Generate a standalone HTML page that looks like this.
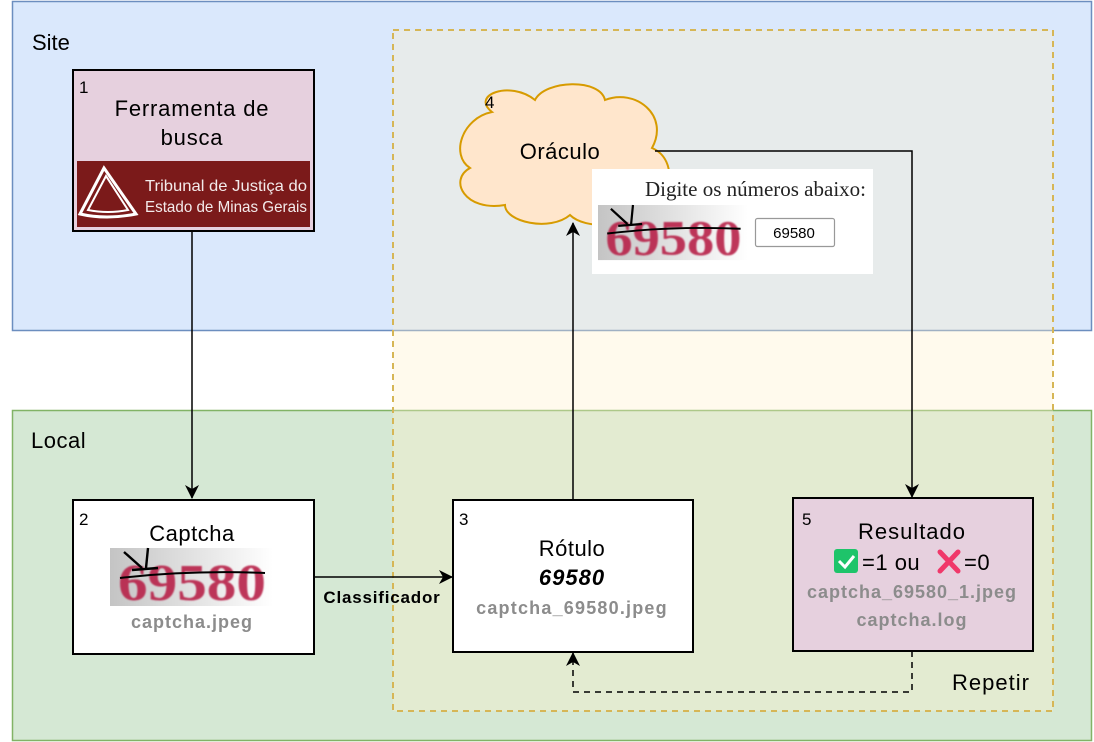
<!DOCTYPE html>
<html><head><meta charset="utf-8"><style>
html,body{margin:0;padding:0;background:#fff;}
svg{display:block;font-family:"Liberation Sans",Arial,sans-serif;}
</style></head><body>
<svg width="1094" height="742" viewBox="0 0 1094 742" xmlns="http://www.w3.org/2000/svg">
<defs>
<linearGradient id="cg" x1="0" x2="1" y1="0" y2="0">
<stop offset="0" stop-color="#c4c4c4"/><stop offset="1" stop-color="#ffffff"/>
</linearGradient>
<filter id="bl"><feGaussianBlur stdDeviation="0.9"/></filter>
<marker id="ah" markerWidth="14" markerHeight="14" refX="13" refY="7" orient="auto" markerUnits="userSpaceOnUse">
<path d="M0,0 L14,7 L0,14 L4,7 Z" fill="#000"/>
</marker>
<g id="cap">
<rect x="0" y="0" width="163" height="58" fill="url(#cg)"/>
<text x="8" y="52" font-family="Liberation Serif,serif" font-size="52" font-weight="bold" fill="#b8204a" opacity="0.9" filter="url(#bl)" textLength="148" lengthAdjust="spacingAndGlyphs">69580</text>
<path d="M14,4 L32,20 M38,0 L36,20 M22,22 L48,20" stroke="#000" stroke-width="2.4" fill="none"/>
<path d="M10,30 Q80,22 155,25" stroke="#000" stroke-width="2" fill="none"/>
</g>
</defs>

<rect x="12.5" y="1.5" width="1079" height="329" fill="#dae8fc" stroke="#6c8ebf" stroke-width="1.5"/>
<text x="32" y="50" font-size="22">Site</text>
<rect x="12.5" y="410.5" width="1079" height="330" fill="#d5e8d4" stroke="#82b366" stroke-width="1.5"/>
<text x="31" y="448" font-size="22" letter-spacing="0.5">Local</text>
<rect x="393" y="30" width="660" height="681" fill="#fff2cc" fill-opacity="0.35" stroke="#d6b656" stroke-width="2" stroke-dasharray="6,5"/>
<text x="952" y="690" font-size="22" letter-spacing="1">Repetir</text>

<!-- Box 1 -->
<rect x="73" y="70" width="241" height="161" fill="#e6d0de" stroke="#000" stroke-width="2"/>
<text x="79" y="93" font-size="17">1</text>
<text x="192" y="116" font-size="22" letter-spacing="0.8" text-anchor="middle">Ferramenta de</text>
<text x="192" y="145" font-size="22" letter-spacing="0.8" text-anchor="middle">busca</text>
<rect x="77" y="161" width="233" height="66" fill="#7b1a1a"/>
<path d="M104,168 L80,214 Q106,220 136,214 Z" fill="none" stroke="#fff" stroke-width="3"/>
<path d="M106,176 L88,210 Q108,214 128,210 Z" fill="none" stroke="#fff" stroke-width="2"/>
<text x="145" y="191" font-size="16" fill="#f3eaea" textLength="162" lengthAdjust="spacingAndGlyphs">Tribunal de Justiça do</text>
<text x="145" y="212" font-size="16" fill="#f3eaea" textLength="162" lengthAdjust="spacingAndGlyphs">Estado de Minas Gerais</text>

<!-- Cloud -->
<path d="M492,112 C470,95 510,80 535,100 C545,80 600,78 605,100 C635,88 670,115 652,148 C680,160 672,205 640,208 C630,228 585,230 570,215 C550,232 505,222 505,205 C465,212 448,180 470,168 C450,155 462,118 492,112 Z" fill="#ffe6cc" stroke="#d79b00" stroke-width="2"/>
<text x="485" y="108" font-size="17">4</text>
<text x="560" y="159" font-size="22" letter-spacing="0.5" text-anchor="middle">Oráculo</text>

<!-- Captcha panel -->
<rect x="592" y="169" width="281" height="105" fill="#fff"/>
<text x="866" y="196" font-family="Liberation Serif,serif" font-size="21" text-anchor="end" fill="#222">Digite os números abaixo:</text>
<use href="#cap" transform="translate(598,205) scale(0.92,0.95)"/>
<rect x="755.5" y="218.5" width="79" height="28" fill="#fff" stroke="#999" stroke-width="1.2" rx="2"/>
<text x="794" y="238" font-size="15" text-anchor="middle">69580</text>

<!-- Box 2 -->
<rect x="73" y="500" width="241" height="154" fill="#fff" stroke="#000" stroke-width="2"/>
<text x="79" y="525" font-size="17">2</text>
<text x="192" y="541" font-size="22" letter-spacing="0.5" text-anchor="middle">Captcha</text>
<use href="#cap" transform="translate(110,548)"/>
<text x="192" y="628" font-size="18" font-weight="bold" letter-spacing="1" fill="#8c8c8c" text-anchor="middle">captcha.jpeg</text>

<!-- Box 3 -->
<rect x="453" y="500" width="240" height="152" fill="#fff" stroke="#000" stroke-width="2"/>
<text x="459" y="525" font-size="17">3</text>
<text x="572" y="556" font-size="22" letter-spacing="0.5" text-anchor="middle">Rótulo</text>
<text x="572" y="585" font-size="22" font-weight="bold" font-style="italic" letter-spacing="1" text-anchor="middle">69580</text>
<text x="572" y="614" font-size="18" font-weight="bold" letter-spacing="1.2" fill="#8c8c8c" text-anchor="middle">captcha_69580.jpeg</text>

<!-- Box 5 -->
<rect x="793" y="498" width="240" height="153" fill="#e6d0de" stroke="#000" stroke-width="2"/>
<text x="802" y="525" font-size="17">5</text>
<text x="912" y="539" font-size="22" letter-spacing="1" text-anchor="middle">Resultado</text>
<rect x="834" y="549" width="24" height="24" rx="3" fill="#1ec46a"/>
<path d="M839,561 L845,567 L854,556" stroke="#fff" stroke-width="3" fill="none"/>
<text x="862" y="570" font-size="22" letter-spacing="0.5">=1 ou</text>
<path d="M940,552 L958,571 M958,552 L940,571" stroke="#f0386a" stroke-width="5" stroke-linecap="round"/>
<text x="964" y="570" font-size="22" letter-spacing="0.5">=0</text>
<text x="912" y="598" font-size="18" font-weight="bold" letter-spacing="1" fill="#8c8c8c" text-anchor="middle">captcha_69580_1.jpeg</text>
<text x="912" y="626" font-size="18" font-weight="bold" letter-spacing="1" fill="#8c8c8c" text-anchor="middle">captcha.log</text>

<!-- Connectors -->
<line x1="192" y1="231" x2="192" y2="498" stroke="#000" stroke-width="1.5" marker-end="url(#ah)"/>
<line x1="314" y1="577" x2="452" y2="577" stroke="#000" stroke-width="1.5" marker-end="url(#ah)"/>
<text x="382" y="603" font-size="17" font-weight="bold" letter-spacing="0.8" text-anchor="middle">Classificador</text>
<line x1="573" y1="500" x2="573" y2="223" stroke="#000" stroke-width="1.5" marker-end="url(#ah)"/>
<polyline points="655,151 912,151 912,497" fill="none" stroke="#000" stroke-width="1.5" marker-end="url(#ah)"/>
<polyline points="912,651 912,692 573,692 573,653" fill="none" stroke="#000" stroke-width="1.5" stroke-dasharray="6,5" marker-end="url(#ah)"/>
</svg>
</body></html>
